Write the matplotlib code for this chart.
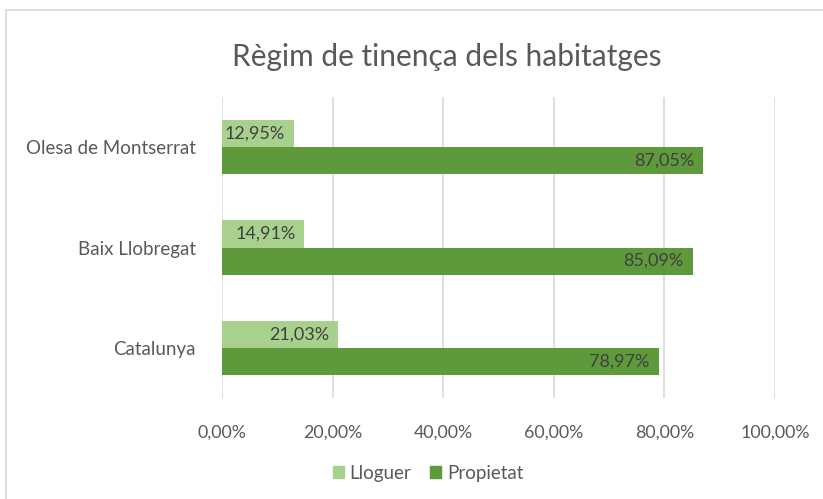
import matplotlib
matplotlib.use("Agg")
import matplotlib.pyplot as plt
from matplotlib.patches import Rectangle, Patch
import numpy as np

categories = ["Catalunya", "Baix Llobregat", "Olesa de Montserrat"]
lloguer = [21.03, 14.91, 12.95]
propietat = [78.97, 85.09, 87.05]
series_names = ["Lloguer", "Propietat"]
xticks = [0, 20, 40, 60, 80, 100]

c_light = "#A9D18E"
c_dark = "#5E9A3C"
txt = "#595959"
font = "Lato"

W, H = 823, 499
fig = plt.figure(figsize=(W/100, H/100), dpi=100)
fig.patch.set_facecolor("white")

# chart border (top & left visible)
fig.patches.append(Rectangle((6/W, -0.1), 1.2, 1 - 10/H + 0.1, transform=fig.transFigure,
                             fill=False, edgecolor="#D9D9D9", linewidth=1.2, zorder=0))

ax = fig.add_axes([222/W, 1 - 398/H, (775-222)/W, (398-97)/H])
y = np.arange(len(categories))
h = 0.27
b1 = ax.barh(y + h/2, lloguer, height=h, color=c_light, zorder=3)
b2 = ax.barh(y - h/2, propietat, height=h, color=c_dark, zorder=3)

ax.set_xlim(0, 100)
ax.set_ylim(-0.5, len(categories) - 0.5)
ax.set_xticks(xticks)
ax.set_xticklabels([f"{v:.2f}%".replace(".", ",") for v in xticks], fontsize=12.8,
                   color=txt, family=font)
ax.set_yticks(y)
ax.set_yticklabels(categories, fontsize=13.5, color=txt, family=font)
ax.tick_params(length=0)
ax.tick_params(axis="x", pad=19)
ax.tick_params(axis="y", pad=19)
ax.grid(axis="x", color="#D9D9D9", linewidth=1.2, zorder=0)
for s in ax.spines.values():
    s.set_visible(False)

for bars, vals in ((b1, lloguer), (b2, propietat)):
    for bar, v in zip(bars, vals):
        ax.text(v - 1.6, bar.get_y() + bar.get_height()/2, f"{v:.2f}%".replace(".", ","),
                ha="right", va="center", fontsize=13, color="#404040", family=font, zorder=4)

fig.text(447/W, 1 - 57/H, "Règim de tinença dels habitatges", ha="center", va="center",
         fontsize=21.5, color=txt, family=font)

handles = [Patch(color=c_light), Patch(color=c_dark)]
fig.legend(handles, series_names, loc="center", bbox_to_anchor=(428/W, 1 - 473/H), ncol=2,
           frameon=False, prop={"family": font, "size": 13.5}, labelcolor=txt,
           handlelength=0.6, handleheight=0.6, handletextpad=0.3, columnspacing=1.0)

fig.savefig("out.png", dpi=100, facecolor="white")
